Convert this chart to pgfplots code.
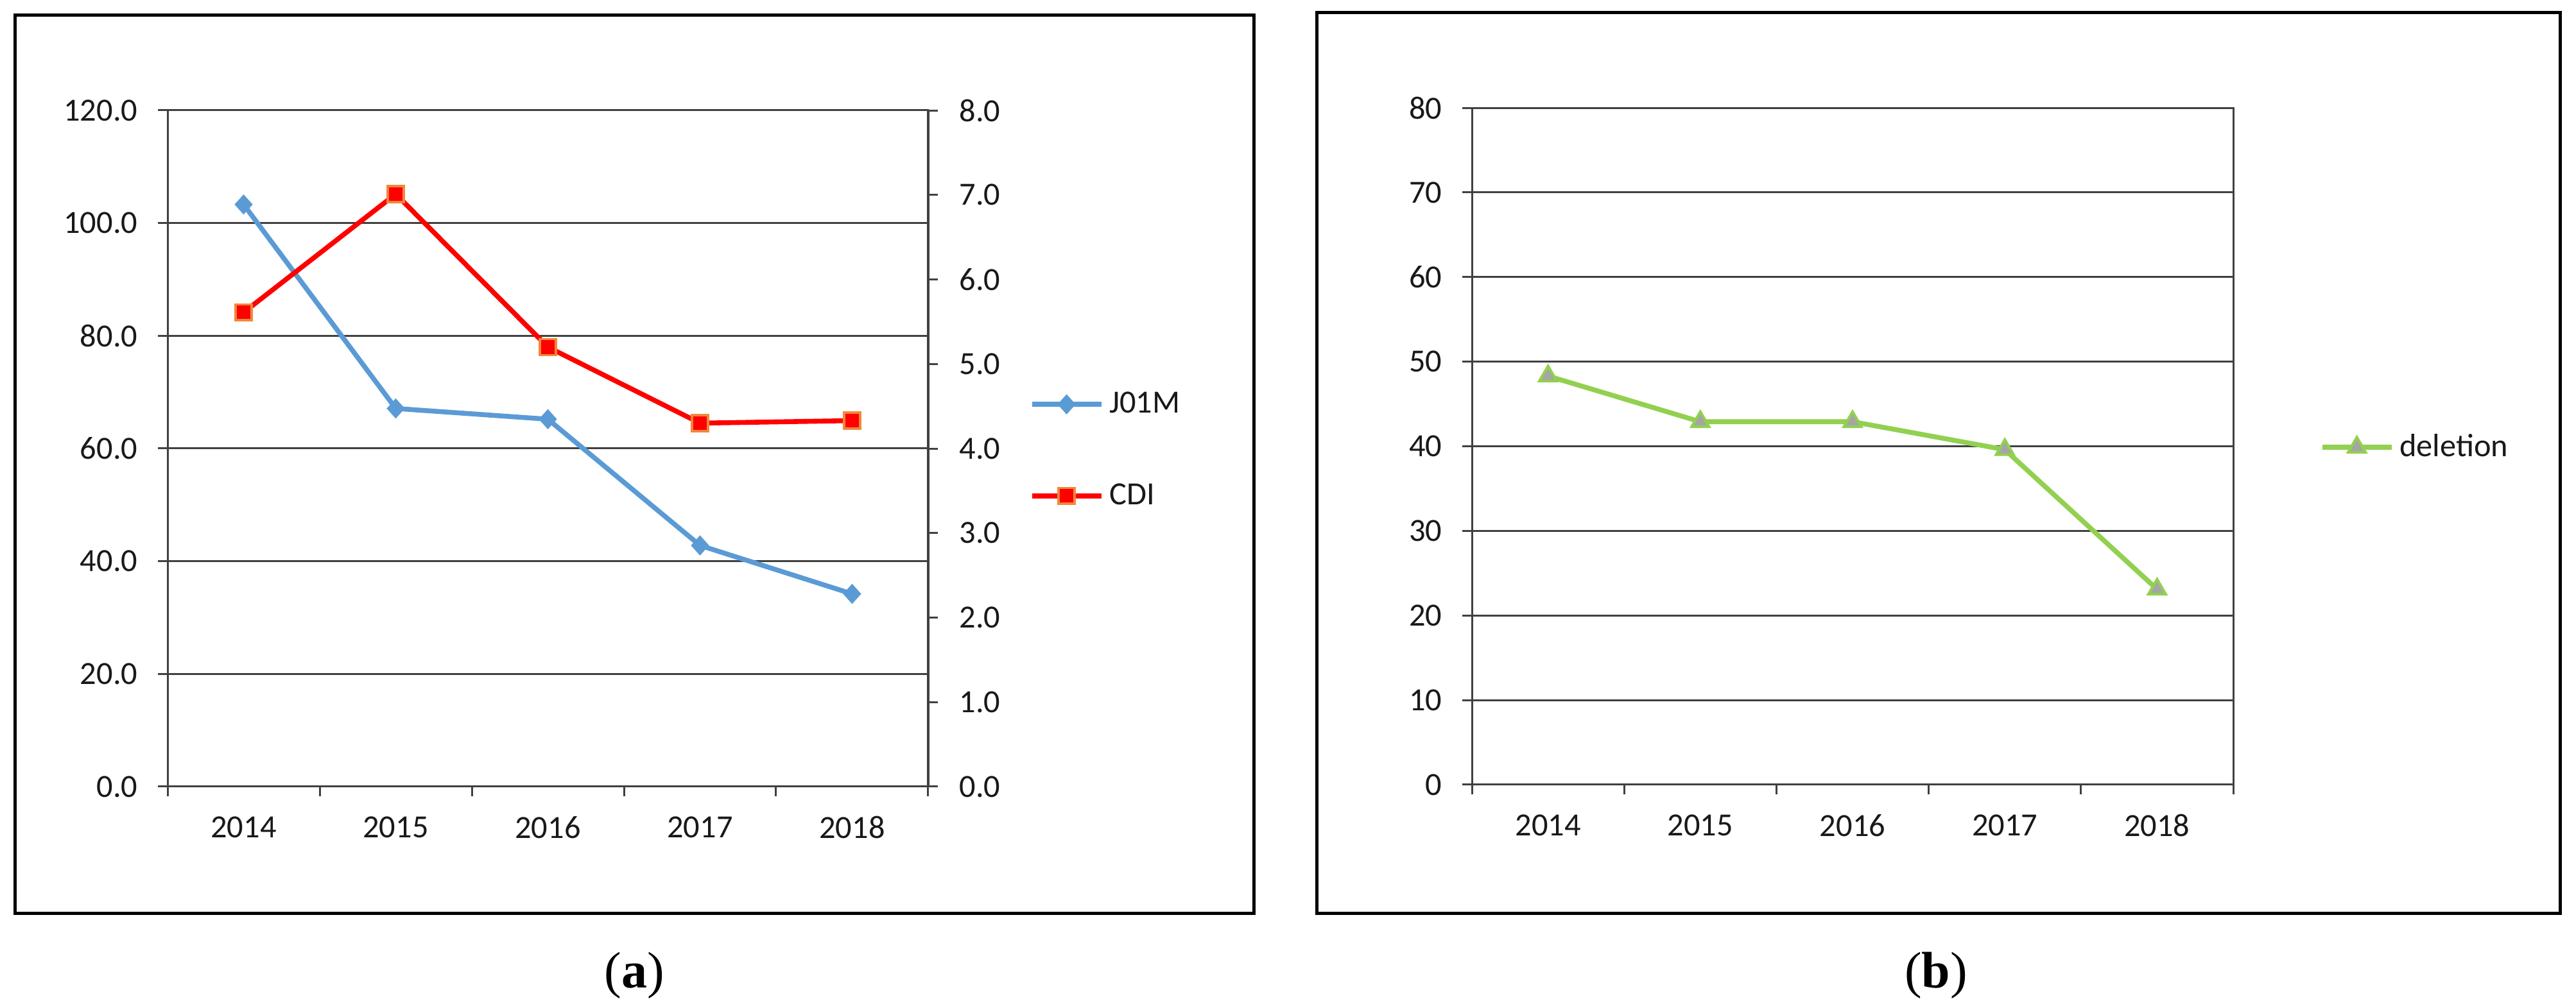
\documentclass[border=0pt]{standalone}
\usepackage{pgfplots}
\pgfplotsset{compat=1.18}
\usepackage{fontspec}
\setmainfont{Carlito}
\newfontfamily\capfont{Liberation Serif}

\definecolor{jblue}{HTML}{5B9BD5}
\definecolor{cred}{HTML}{FF0000}
\definecolor{corange}{HTML}{F0883C}
\definecolor{dgreen}{HTML}{92D050}
\definecolor{dgray}{HTML}{A5A5A5}
\definecolor{axgray}{HTML}{404040}

% one picture px = 0.25bp (reference is 4013 x 1571 px)
\pgfplotsset{
  excel/.style={
    scale only axis,
    anchor=south west,
    xmin=0.5, xmax=5.5,
    xtick={0.5,1.5,...,5.5},
    xticklabels={},
    extra x ticks={1,2,3,4,5},
    extra x tick labels={2014,2015,2016,2017,2018},
    extra x tick style={major tick length=0pt, xticklabel style={yshift=-8.1bp}},
    tick align=outside,
    major tick length=3.75bp,
    axis line style={axgray, line width=0.75bp},
    every tick/.style={axgray, line width=0.75bp},
    tick label style={font=\fontsize{12.6bp}{15bp}\selectfont, text=black!90},
    /pgf/number format/assume math mode=true,
    scaled y ticks=false,
    major grid style={axgray, line width=0.75bp},
    legend image code/.code={
      \draw[mark repeat=2, mark phase=2, #1]
        plot coordinates {(0bp,0bp) (13.5bp,0bp) (27bp,0bp)};
    },
    legend cell align=left,
    legend style={draw=none, fill=none, inner sep=0pt,
      font=\fontsize{12.6bp}{15bp}\selectfont, text=black!90,
      nodes={inner sep=0pt},
      /tikz/every odd column/.append style={column sep=2.2bp}},
  },
  jstyle/.style={jblue, line width=1.9bp, mark=diamond*,
    mark size=3.7bp, mark options={solid, xscale=1.2, fill=jblue, draw=jblue, line width=0.3bp}},
  cstyle/.style={cred, line width=1.9bp, mark=square*,
    mark size=3.1bp, mark options={solid, fill=cred, draw=corange, line width=0.9bp}},
  dstyle/.style={dgreen, line width=1.9bp, mark=triangle*,
    mark size=3.9bp, mark options={solid, fill=dgray, draw=dgreen, line width=1bp}},
}

\begin{document}
\begin{tikzpicture}
  \useasboundingbox (0,0) rectangle (1003.25bp,392.75bp);
  \fill[white] (0,0) rectangle (1003.25bp,392.75bp);

  % panel frames
  \draw[black, line width=1.25bp] (5.75bp,36.75bp) rectangle (488.375bp,386.75bp);
  \draw[black, line width=1.25bp] (512.875bp,36.75bp) rectangle (997bp,387.75bp);

  % (a) left axis: J01M
  \begin{axis}[
      excel,
      at={(65.25bp,86.25bp)},
      width=296.25bp, height=263.5bp,
      ymin=0, ymax=120,
      ytick={0,20,...,120},
      ytick pos=left, xtick pos=left,
      ymajorgrids,
      yticklabel style={xshift=-4.4bp,
        /pgf/number format/.cd, fixed, fixed zerofill, precision=1},
      legend style={at={(1.1325,0.4976)}, anchor=west, row sep=26bp},
    ]
    \addplot[jstyle] coordinates {
      (1, 103.3) (2, 67.1) (3, 65.2) (4, 42.8) (5, 34.2)
    };
    \addlegendentry{J01M}
    \addlegendimage{cstyle}
    \addlegendentry{CDI}
  \end{axis}

  % (a) right axis: CDI
  \begin{axis}[
      excel,
      at={(65.25bp,86.25bp)},
      width=296.25bp, height=263.5bp,
      axis x line=none,
      axis y line*=right,
      ymin=0, ymax=8,
      ytick={0,1,...,8},
      yticklabel style={xshift=4.9bp,
        /pgf/number format/.cd, fixed, fixed zerofill, precision=1},
    ]
    \addplot[cstyle] coordinates {
      (1, 5.61) (2, 7.01) (3, 5.20) (4, 4.30) (5, 4.33)
    };
  \end{axis}

  % (b) deletion
  \begin{axis}[
      excel,
      at={(573.25bp,87bp)},
      width=296.5bp, height=263.75bp,
      ymin=0, ymax=80,
      ytick={0,10,...,80},
      ytick pos=left, xtick pos=left,
      ymajorgrids,
      yticklabel style={xshift=-4.4bp},
      legend style={at={(1.113,0.4986)}, anchor=west},
    ]
    \addplot[dstyle] coordinates {
      (1, 48.3) (2, 42.9) (3, 42.9) (4, 39.6) (5, 23.1)
    };
    \addlegendentry{deletion}
  \end{axis}

  % captions
  \node[font=\capfont\fontsize{20bp}{24bp}\selectfont, inner sep=0pt] at (247bp,12.75bp) {(\textbf{a})};
  \node[font=\capfont\fontsize{20bp}{24bp}\selectfont, inner sep=0pt] at (754bp,12.75bp) {(\textbf{b})};
\end{tikzpicture}
\end{document}
